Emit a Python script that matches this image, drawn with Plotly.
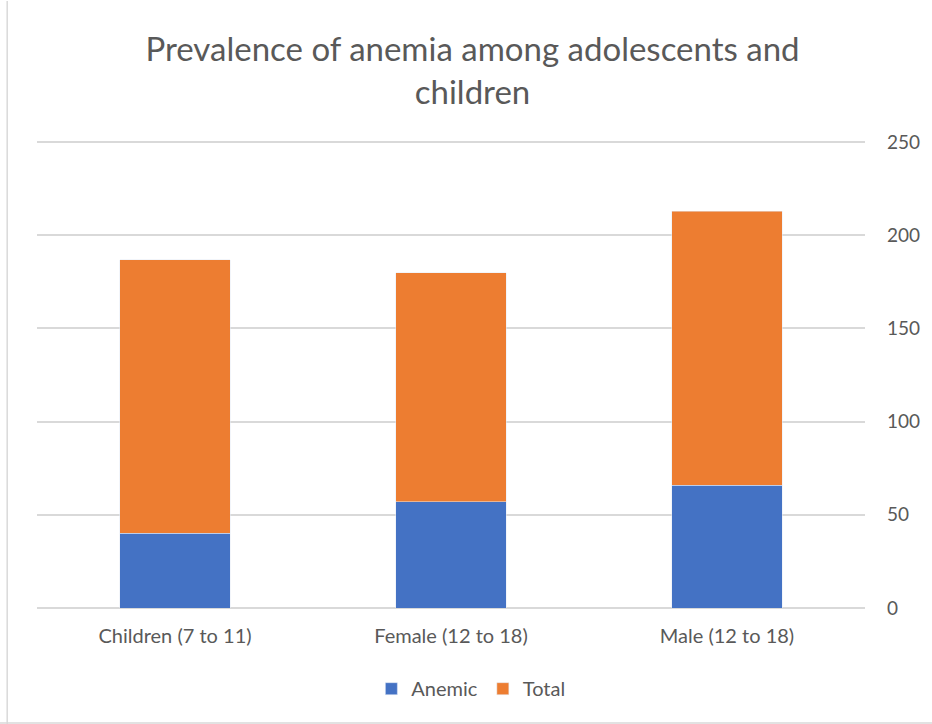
import plotly.graph_objects as go

categories = ["Children (7 to 11)", "Female (12 to 18)", "Male (12 to 18)"]
anemic = [40, 57, 66]
total = [147, 123, 147]
y_ticks = [0, 50, 100, 150, 200, 250]

BLUE = "#4472C4"
ORANGE = "#ED7D31"
TEXT = "#595959"
FONT = "Lato, 'Open Sans', sans-serif"

fig = go.Figure()
fig.add_trace(go.Bar(name="Anemic", x=categories, y=anemic, marker_color=BLUE))
fig.add_trace(go.Bar(name="Total", x=categories, y=total, marker_color=ORANGE))

fig.update_layout(
    barmode="stack",
    bargap=0.6,
    width=932,
    height=724,
    margin=dict(l=37, r=67, t=141, b=116),
    paper_bgcolor="white",
    plot_bgcolor="white",
    font=dict(family=FONT, color=TEXT, size=18),
    title=dict(
        text="Prevalence of anemia among adolescents and<br>children",
        x=0.507,
        xanchor="center",
        y=0.916,
        yanchor="top",
        font=dict(family=FONT, size=33, color=TEXT),
    ),
    legend=dict(
        orientation="h",
        x=0.524,
        xanchor="center",
        y=-0.131,
        yanchor="top",
        font=dict(size=20, color=TEXT),
        traceorder="normal",
        itemwidth=30,
    ),
    xaxis=dict(
        showgrid=False,
        showline=False,
        ticks="",
        ticklabelstandoff=14,
        tickfont=dict(size=20, color=TEXT),
    ),
    yaxis=dict(
        side="right",
        range=[0, 250.6],
        tickvals=y_ticks,
        showgrid=True,
        gridcolor="#D9D9D9",
        gridwidth=1.5,
        zeroline=True,
        zerolinecolor="#D9D9D9",
        zerolinewidth=1.5,
        ticks="",
        ticklabelstandoff=21,
        tickfont=dict(size=19, color=TEXT),
    ),
    shapes=[
        dict(type="line", xref="paper", yref="paper", x0=-0.036, x1=-0.036, y0=-0.25, y1=1.3,
             line=dict(color="#D9D9D9", width=1.5)),
        dict(type="line", xref="paper", yref="paper", x0=-0.05, x1=1.1, y0=-0.246, y1=-0.246,
             line=dict(color="#D9D9D9", width=1.5)),
    ],
)

fig.write_html("out.html")
